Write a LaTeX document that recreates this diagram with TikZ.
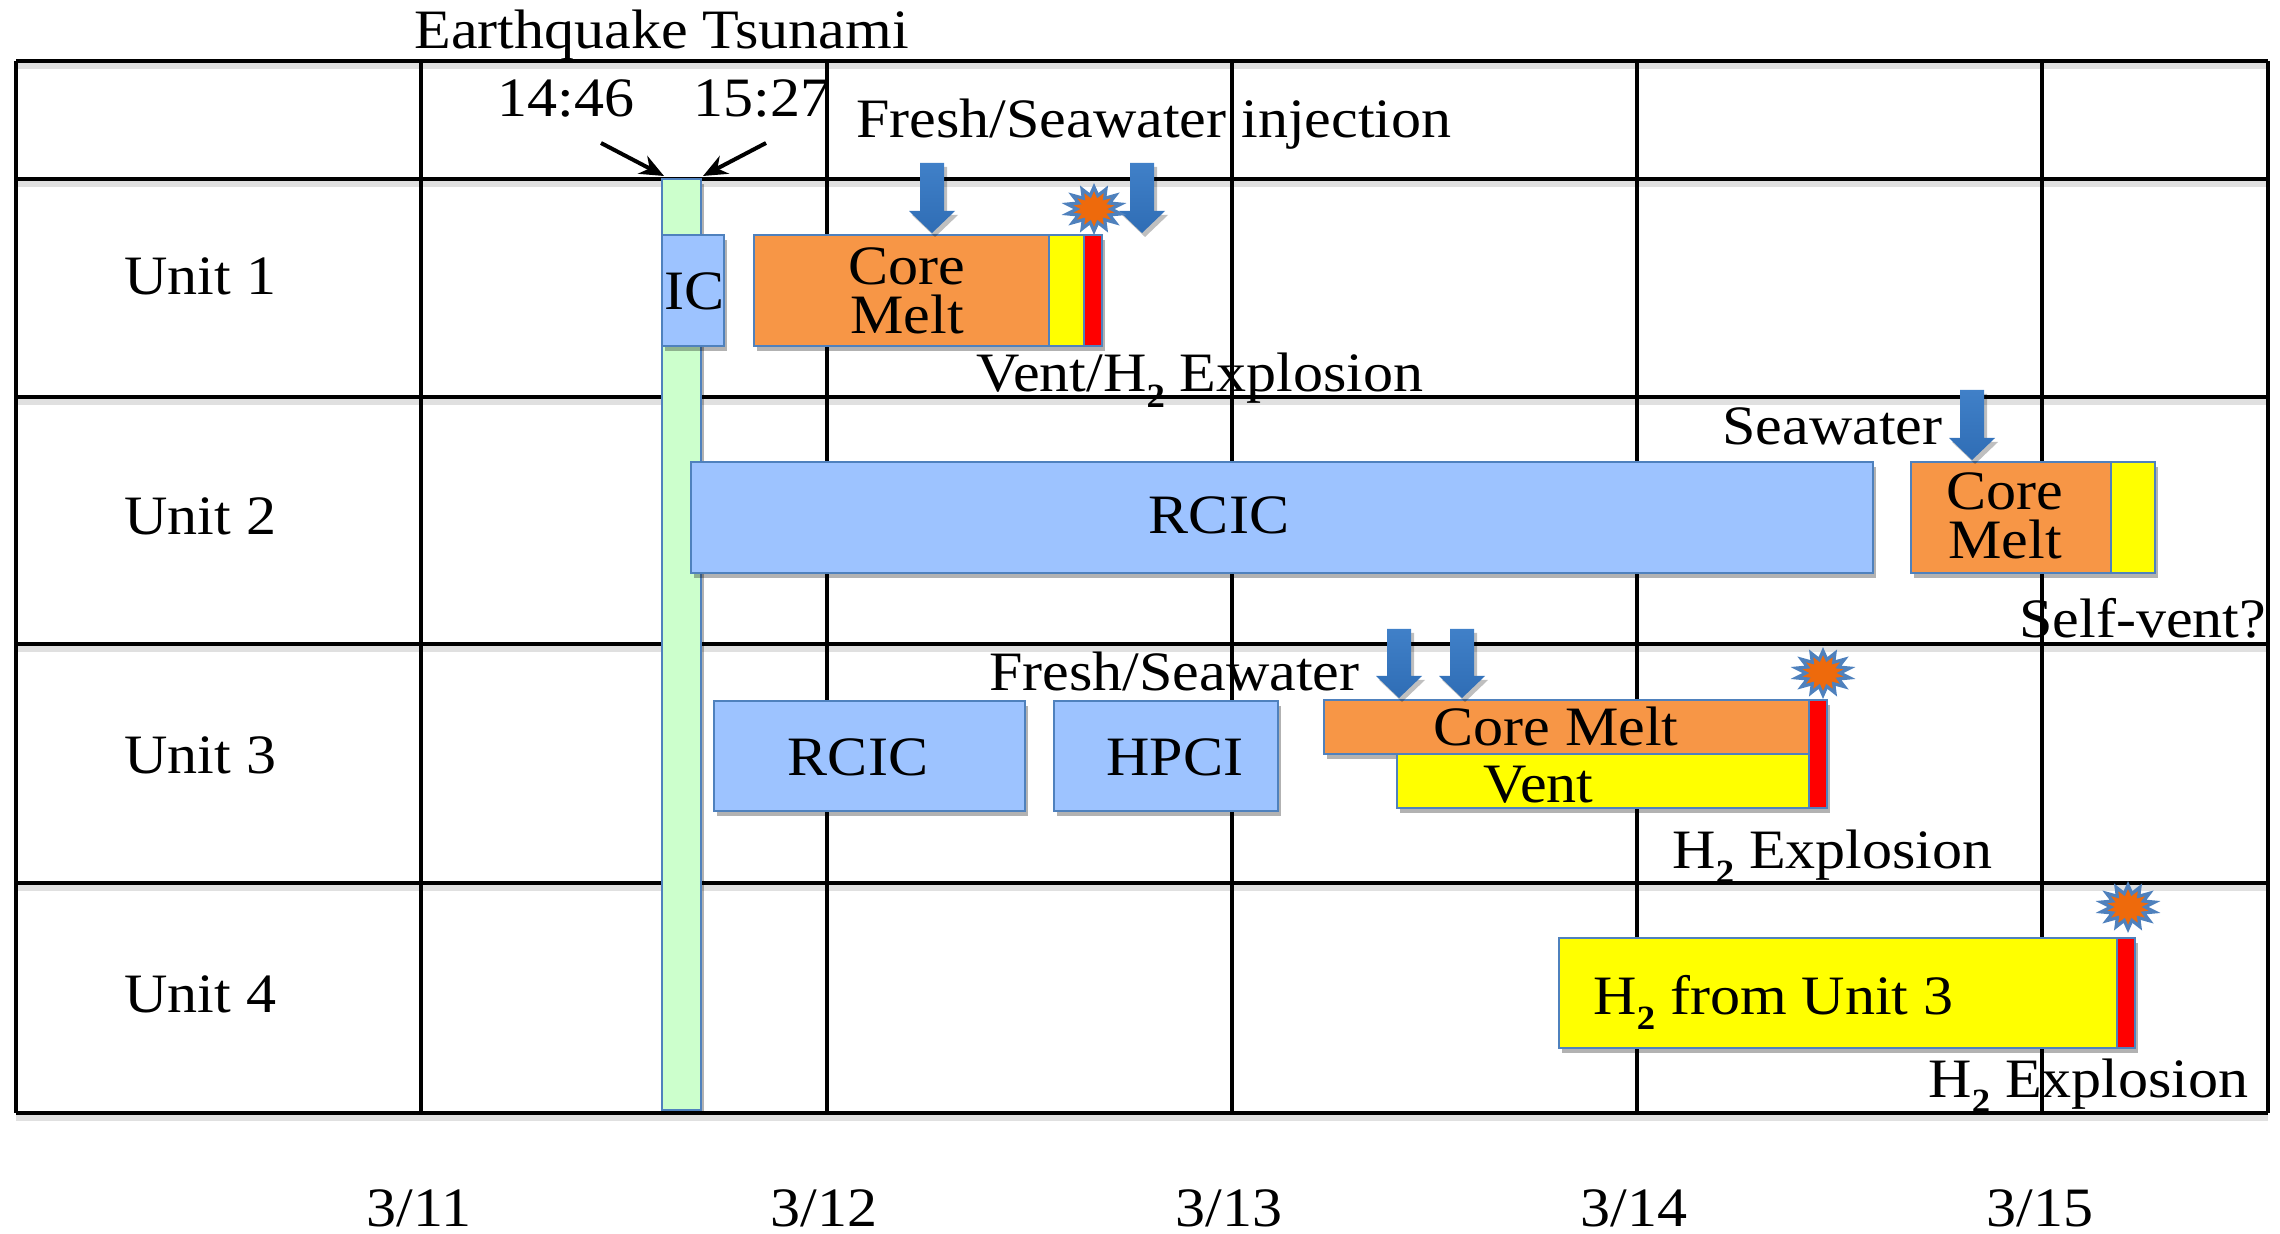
\documentclass[tikz,border=0pt]{standalone}
\usepackage{fontspec}
\setmainfont[FakeStretch=1.08]{Liberation Serif}
\usetikzlibrary{shadows,shapes.geometric,arrows.meta}
\definecolor{edgeblue}{HTML}{4F81BD}
\definecolor{fillblue}{HTML}{9DC3FF}
\definecolor{fillorange}{HTML}{F79646}
\definecolor{fillgreen}{HTML}{CCFFCC}
\definecolor{flash}{HTML}{EE6A0C}
\definecolor{pureyellow}{HTML}{FFFF00}
\definecolor{purered}{HTML}{FF0000}
\definecolor{injtop}{HTML}{4080C8}
\definecolor{injbot}{HTML}{2F6DB5}
\tikzset{
  gridline/.style={line width=2.1pt,black},
  gridshade/.style={line width=2.6pt,black,opacity=.12},
  cellbox/.style={draw=edgeblue,line width=1.4pt,inner sep=0pt,outer sep=0pt,rectangle,
    drop shadow={shadow xshift=1.5pt,shadow yshift=-2.5pt,opacity=.3,fill=black}},
  lbl/.style={anchor=base west,inner sep=0pt,font=\fontsize{27.8}{30}\selectfont},
  lblc/.style={anchor=base,inner sep=0pt,text height=.66em,text depth=0pt,font=\fontsize{27.8}{30}\selectfont},
  lblstack/.style={anchor=center,align=center,inner sep=0pt,font=\fontsize{27.8}{24.7}\selectfont},
  inject/.style={top color=injtop,bottom color=injbot,draw=none,
    drop shadow={shadow xshift=1.5pt,shadow yshift=-2pt,opacity=.25,fill=black}},
  burst/.style={star,star points=14,star point ratio=1.6,fill=flash,draw=edgeblue,line width=1.6pt,
    minimum size=22pt,inner sep=0pt,xscale=1.25,transform shape},
  pointer/.style={-{Stealth[length=12pt,width=10pt]},line width=2pt,black}
}
\newcommand{\bx}[7][cellbox]{%
  \pgfmathsetmacro\bw{(#5-#3)*0.5}\pgfmathsetmacro\bh{(#6-#4)*0.5}%
  \node[#1,fill=#7,minimum width=\bw pt,minimum height=\bh pt] (#2) at ({(#3+#5)/2},{(#4+#6)/2}) {};}
\newcommand{\wa}[3]{% centre x, top y, tip y
  \pgfmathsetmacro\hy{#3-22}%
  \path[inject] (#1-12,#2) -- (#1+12,#2) -- (#1+12,\hy) -- (#1+23,\hy) -- (#1,#3) -- (#1-23,\hy) -- (#1-12,\hy) -- cycle;}
\newcommand{\subtwo}{\raisebox{-.28em}{\fontsize{17}{17}\selectfont\bfseries 2}}
\begin{document}
\begin{tikzpicture}[x=0.5pt,y=-0.5pt]
\useasboundingbox (0,0) rectangle (2280,1234);
% grid shadows
\foreach \yy in {61,179,397,644,883,1113}
  \draw[gridshade] (16,\yy+5) -- (2268,\yy+5);
% grid
\foreach \xx in {16,421,827,1232,1637,2042,2268}
  \draw[gridline] (\xx,61) -- (\xx,1113);
\foreach \yy in {61,179,397,644,883,1113}
  \draw[gridline] (16,\yy) -- (2268,\yy);
% tsunami bar
\bx{quake}{662}{179}{701}{1110}{fillgreen}
\coordinate (p1) at (601,143);
\coordinate (p2) at (766,143);
\coordinate (q1) at (664,176);
\coordinate (q2) at (703,176);
\draw[pointer] (p1) -- (q1);
\draw[pointer] (p2) -- (q2);
% unit 1
\bx{ic}{662}{235}{724}{346}{fillblue}
\bx{melta}{754}{235}{1049}{346}{fillorange}
\bx{venta}{1049}{235}{1084}{346}{pureyellow}
\bx{reda}{1084}{235}{1102}{346}{purered}
\wa{932}{163}{233}
\wa{1142}{163}{233}
\node[burst] (bursta) at (1094,209) {};
% unit 2
\bx{rcicb}{691}{462}{1873}{573}{fillblue}
\bx{meltb}{1911}{462}{2111}{573}{fillorange}
\bx{ventb}{2111}{462}{2155}{573}{pureyellow}
\wa{1972}{390}{460}
% unit 3
\bx{rcicc}{714}{701}{1025}{811}{fillblue}
\bx{hpci}{1054}{701}{1278}{811}{fillblue}
\bx{meltc}{1324}{700}{1809}{754}{fillorange}
\bx{ventc}{1397}{754}{1809}{808}{pureyellow}
\bx{redc}{1809}{700}{1827}{808}{purered}
\wa{1399}{629}{698}
\wa{1462}{629}{698}
\node[burst] (burstc) at (1823,673) {};
% unit 4
\bx{hyd}{1559}{938}{2117}{1048}{pureyellow}
\bx{redd}{2117}{938}{2135}{1048}{purered}
\node[burst] (burstd) at (2128,907) {};
% labels
\node[lbl] (t1) at (414,49) {Earthquake Tsunami};
\node[lbl] (t2) at (497,117) {14:46};
\node[lbl] (t3) at (693,117) {15:27};
\node[lbl] (t4) at (856,138) {Fresh/Seawater injection};
\node[lbl] (u1) at (124,295) {Unit 1};
\node[lbl] (u2) at (124,535) {Unit 2};
\node[lbl] (u3) at (124,773) {Unit 3};
\node[lbl] (u4) at (124,1012) {Unit 4};
\node[lblc] (ict) at (695,310) {IC};
\node[lblstack] (c1) at (907,291) {Core\\Melt};
\node[lbl] (v1) at (976,392) {Vent/H\subtwo\ Explosion};
\node[lbl] (s1) at (1722,445) {Seawater};
\node[lblc] (r2) at (1219,534) {RCIC};
\node[lblstack] (c3) at (2005,516) {Core\\Melt};
\node[lbl] (sv) at (2019,638) {Self-vent?};
\node[lbl] (f2) at (989,690) {Fresh/Seawater};
\node[lblc] (r3) at (858,775) {RCIC};
\node[lblc] (h3) at (1175,775) {HPCI};
\node[lbl] (c5) at (1433,746) {Core Melt};
\node[lbl] (v3) at (1483,802) {Vent};
\node[lbl] (e3) at (1672,868) {H\subtwo\ Explosion};
\node[lbl] (h4) at (1593,1014) {H\subtwo\ from Unit 3};
\node[lbl] (e4) at (1928,1097) {H\subtwo\ Explosion};
\foreach \xx/\dd in {419/3\slash 11,824/3\slash 12,1229/3\slash 13,1634/3\slash 14,2040/3\slash 15}
  \node[lblc] at (\xx,1226) {\dd};
\end{tikzpicture}
\end{document}
